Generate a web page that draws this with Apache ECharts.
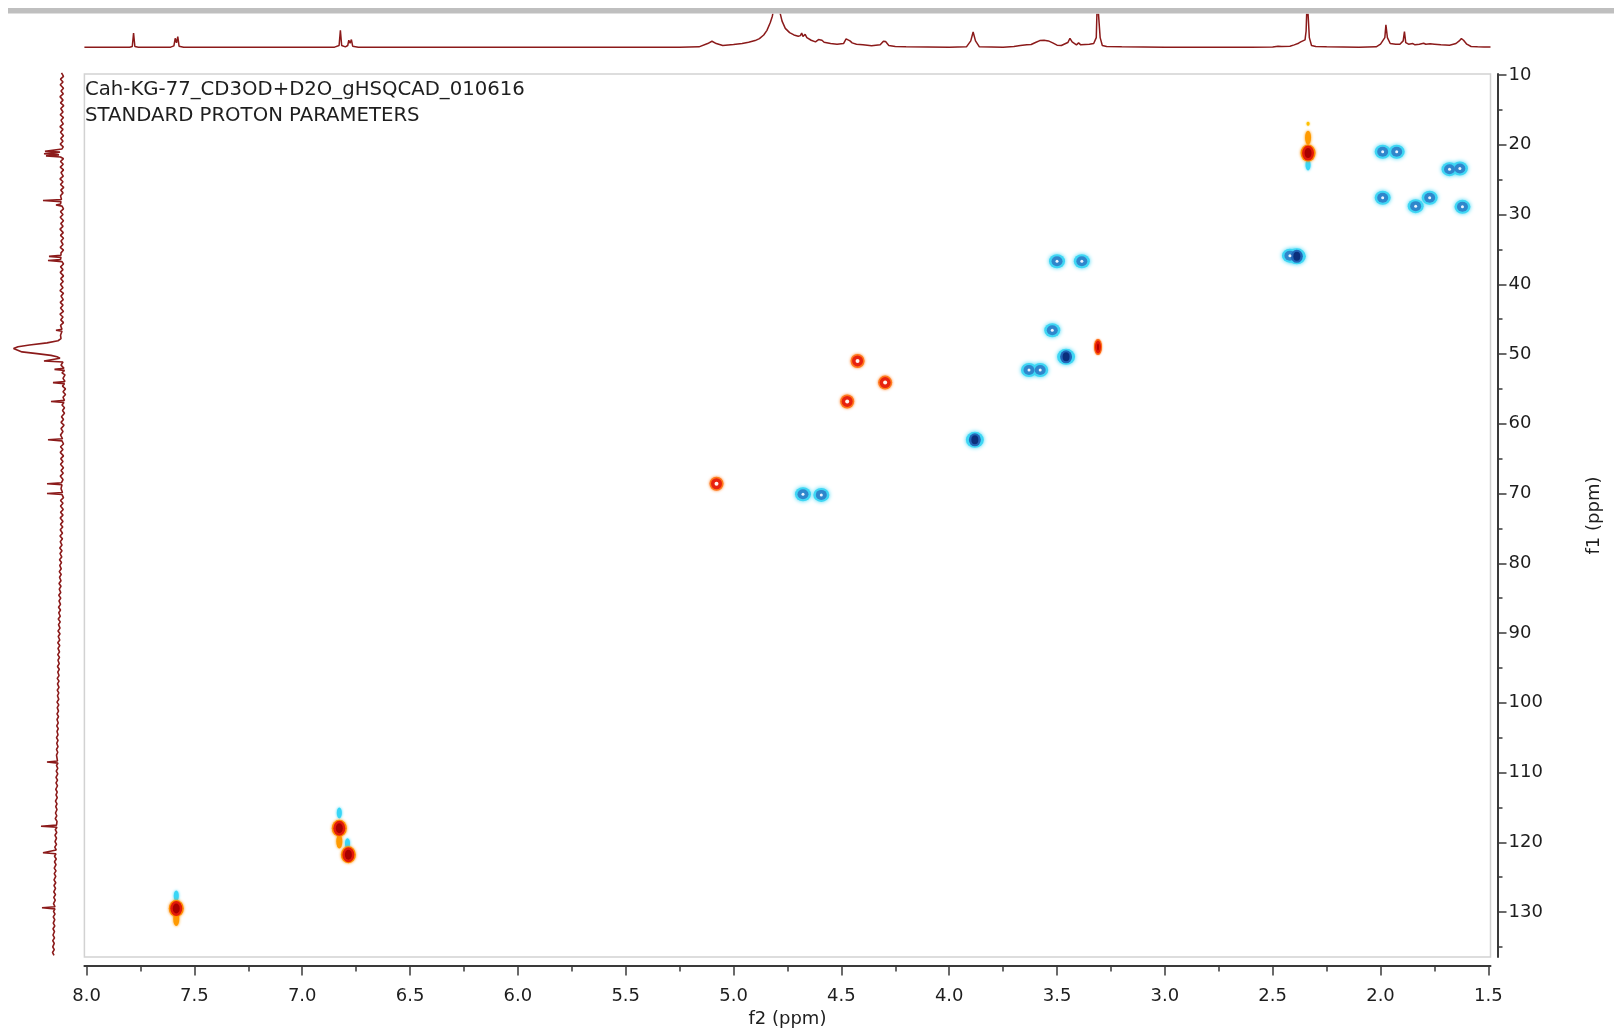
<!DOCTYPE html>
<html>
<head>
<meta charset="utf-8">
<script src="https://cdn.jsdelivr.net/npm/echarts@6/dist/echarts.min.js"></script>
<style>
  html, body { margin: 0; padding: 0; background: #fff; }
  #chart { width: 1614px; height: 1036px; }
</style>
</head>
<body>
<div id="chart"></div>
<script>
// f2 (1H) tick labels and f1 (13C) tick labels
const f2Labels = [1.5, 2.0, 2.5, 3.0, 3.5, 4.0, 4.5, 5.0, 5.5, 6.0, 6.5, 7.0, 7.5, 8.0];
const f2Minor = [1.75, 2.25, 2.75, 3.25, 3.75, 4.25, 4.75, 5.25, 5.75, 6.25, 6.75, 7.25, 7.75];
const f1Labels = [10, 20, 30, 40, 50, 60, 70, 80, 90, 100, 110, 120, 130];
const f1Minor = [15, 25, 35, 45, 55, 65, 75, 85, 95, 105, 115, 125, 135];

// 1D proton trace on top: [ppm, relative intensity]
const protonTrace = [
  [8.01,0.01],[7.80,0.01],[7.788,0.03],[7.782,0.44],[7.776,0.03],[7.76,0.01],
  [7.61,0.01],[7.595,0.05],[7.589,0.28],[7.583,0.14],[7.577,0.33],[7.571,0.04],[7.55,0.01],
  [6.85,0.01],[6.829,0.06],[6.823,0.52],[6.817,0.06],[6.80,0.02],[6.789,0.06],[6.784,0.22],[6.778,0.13],[6.772,0.24],[6.766,0.04],[6.74,0.01],
  [5.25,0.01],[5.16,0.02],[5.12,0.12],[5.10,0.19],[5.08,0.12],[5.05,0.06],[5.00,0.09],[4.96,0.12],[4.93,0.16],[4.90,0.21],[4.88,0.27],
  [4.86,0.38],[4.845,0.52],[4.83,0.75],[4.82,0.95],[4.81,1.3],[4.80,1.5],[4.79,1.2],[4.775,0.8],[4.76,0.58],[4.74,0.45],[4.72,0.38],
  [4.70,0.34],[4.69,0.36],[4.684,0.44],[4.678,0.33],[4.668,0.40],[4.66,0.30],[4.64,0.22],[4.62,0.17],[4.606,0.24],[4.598,0.29],[4.59,0.22],
  [4.58,0.16],[4.55,0.12],[4.52,0.10],[4.49,0.12],[4.478,0.26],[4.47,0.30],[4.46,0.2],[4.45,0.14],[4.43,0.10],[4.40,0.08],[4.36,0.05],
  [4.32,0.08],[4.305,0.19],[4.295,0.18],[4.28,0.06],[4.25,0.03],[4.20,0.02],[4.00,0.01],[3.92,0.02],[3.90,0.2],[3.889,0.47],[3.878,0.2],
  [3.86,0.02],[3.75,0.01],[3.70,0.03],[3.67,0.06],[3.64,0.08],[3.62,0.09],[3.60,0.15],[3.58,0.21],[3.56,0.22],[3.54,0.2],[3.52,0.14],
  [3.50,0.07],[3.48,0.06],[3.45,0.15],[3.44,0.28],[3.43,0.17],[3.41,0.08],[3.40,0.14],[3.39,0.08],[3.35,0.1],[3.33,0.12],
  [3.318,0.3],[3.313,1.5],[3.305,1.5],[3.30,0.3],[3.29,0.06],[3.27,0.03],[3.20,0.02],[3.00,0.01],[2.60,0.01],[2.50,0.015],
  [2.475,0.04],[2.466,0.07],[2.458,0.03],[2.42,0.04],[2.40,0.08],[2.38,0.13],[2.37,0.17],[2.36,0.2],[2.35,0.23],[2.345,0.5],
  [2.34,1.5],[2.335,1.5],[2.33,0.3],[2.32,0.06],[2.30,0.03],[2.25,0.02],[2.10,0.01],[2.02,0.02],[2.00,0.10],[1.99,0.20],[1.98,0.3],
  [1.975,0.69],[1.968,0.3],[1.955,0.12],[1.93,0.1],[1.91,0.1],[1.895,0.2],[1.889,0.48],[1.883,0.15],[1.87,0.1],[1.85,0.12],[1.84,0.08],
  [1.82,0.1],[1.80,0.13],[1.79,0.1],[1.77,0.11],[1.75,0.1],[1.72,0.08],[1.68,0.07],[1.65,0.12],[1.635,0.2],[1.625,0.27],[1.615,0.22],
  [1.60,0.1],[1.58,0.03],[1.55,0.02],[1.52,0.015],[1.49,0.015]
];

// 1D carbon trace on the left: [ppm, relative intensity]
const carbonTrace = [
  [9.7,0.01],[10.2,-0.03],[10.6,0.03],[11.0,-0.02],[11.4,0.035],[11.9,-0.03],[12.3,0.02],[12.7,-0.025],[13.1,0.04],[13.6,-0.02],
  [14.0,0.03],[14.4,-0.035],[14.8,0.025],[15.3,-0.02],[15.7,0.035],[16.1,-0.03],[16.5,0.02],[17.0,-0.025],[17.4,0.04],[17.8,-0.02],
  [18.2,0.03],[18.7,-0.03],[19.1,0.025],[19.5,-0.02],[19.9,0.035],[20.3,-0.025],[20.6,0.0],[20.85,0.02],[20.95,0.34],[21.05,0.04],
  [21.15,0.1],[21.3,0.36],[21.45,0.06],[21.6,0.32],[21.75,0.03],[22.0,-0.03],[22.4,0.03],[22.8,-0.025],[23.2,0.035],[23.6,-0.03],
  [24.0,0.02],[24.5,-0.025],[24.9,0.04],[25.3,-0.02],[25.7,0.03],[26.1,-0.035],[26.5,0.025],[26.9,-0.02],[27.3,0.03],[27.85,0.01],
  [28.0,0.38],[28.15,0.02],[28.5,0.03],[28.65,0.12],[28.8,0.0],[29.2,-0.03],[29.6,0.03],[30.0,-0.02],[30.4,0.035],[30.9,-0.03],
  [31.3,0.025],[31.7,-0.02],[32.1,0.04],[32.6,-0.025],[33.0,0.03],[33.4,-0.03],[33.8,0.02],[34.3,-0.02],[34.7,0.035],[35.1,-0.03],
  [35.5,0.02],[35.85,0.02],[36.0,0.26],[36.15,0.02],[36.45,0.03],[36.6,0.28],[36.75,0.0],[37.1,-0.03],[37.5,0.03],[37.9,-0.02],
  [38.3,0.035],[38.8,-0.03],[39.2,0.025],[39.6,-0.025],[40.0,0.03],[40.5,-0.02],[40.9,0.04],[41.3,-0.03],[41.7,0.02],[42.2,-0.025],
  [42.6,0.035],[43.0,-0.02],[43.4,0.03],[43.9,-0.03],[44.3,0.04],[44.7,-0.02],[45.1,0.025],[45.5,-0.03],[45.9,0.03],[46.45,0.0],
  [46.6,0.12],[46.75,0.0],[47.3,0.03],[47.8,0.02],[48.1,0.08],[48.4,0.3],[48.7,0.65],[48.95,0.88],[49.2,0.97],[49.45,0.95],
  [49.7,0.8],[49.95,0.5],[50.2,0.22],[50.4,0.1],[50.6,0.04],[50.85,0.02],[51.0,0.36],[51.15,-0.02],[51.6,0.02],[52.05,-0.04],
  [52.2,0.15],[52.35,-0.05],[52.7,0.0],[53.0,-0.06],[53.5,-0.02],[53.95,-0.06],[54.1,0.18],[54.25,-0.05],[54.6,-0.01],[55.0,-0.07],
  [55.4,-0.02],[55.8,-0.07],[56.2,-0.02],[56.65,-0.05],[56.8,0.22],[56.95,-0.04],[57.3,0.0],[57.7,-0.05],[58.1,-0.01],[58.5,-0.05],
  [59.0,0.01],[59.4,-0.03],[59.8,0.02],[60.2,-0.04],[60.7,0.02],[61.1,-0.02],[61.6,0.03],[62.15,-0.01],[62.3,0.28],[62.45,0.0],
  [62.9,-0.03],[63.3,0.03],[63.7,-0.02],[64.1,0.035],[64.6,-0.03],[65.0,0.025],[65.4,-0.02],[65.8,0.03],[66.3,-0.03],[66.7,0.02],
  [67.1,-0.025],[67.5,0.035],[68.0,-0.02],[68.45,0.01],[68.6,0.3],[68.75,0.0],[69.3,0.02],[69.85,-0.01],[70.0,0.3],[70.15,0.0],
  [70.6,-0.03],[71.0,0.03],[71.4,-0.02],[71.8,0.03],[72.3,-0.025],[72.7,0.03],[73.1,-0.02],[73.5,0.035],[74.0,-0.02],[74.4,0.03],
  [74.8,-0.015],[75.2,0.035],[75.7,-0.01],[76.1,0.04],[76.5,-0.01],[76.9,0.035],[77.4,0.0],[77.8,0.045],[78.2,0.0],[78.6,0.04],
  [79.1,0.005],[79.5,0.05],[79.9,0.01],[80.3,0.045],[80.8,0.015],[81.2,0.055],[81.6,0.015],[82.0,0.05],[82.5,0.02],[82.9,0.06],
  [83.3,0.02],[83.7,0.055],[84.2,0.025],[84.6,0.065],[85.0,0.025],[85.4,0.06],[85.9,0.03],[86.3,0.07],[86.7,0.03],[87.1,0.065],
  [87.6,0.035],[88.0,0.075],[88.4,0.035],[88.8,0.07],[89.3,0.04],[89.7,0.08],[90.1,0.04],[90.5,0.075],[91.0,0.045],[91.4,0.085],
  [91.8,0.045],[92.2,0.08],[92.7,0.05],[93.1,0.085],[93.5,0.05],[93.9,0.08],[94.4,0.055],[94.8,0.09],[95.2,0.055],[95.6,0.085],
  [96.1,0.06],[96.5,0.095],[96.9,0.06],[97.3,0.09],[97.8,0.06],[98.2,0.095],[98.6,0.065],[99.0,0.09],[99.5,0.065],[99.9,0.1],
  [100.3,0.065],[100.7,0.095],[101.2,0.07],[101.6,0.1],[102.0,0.07],[102.4,0.1],[102.9,0.075],[103.3,0.105],[103.7,0.075],[104.1,0.1],
  [104.6,0.08],[105.0,0.11],[105.4,0.08],[105.8,0.105],[106.3,0.08],[106.7,0.11],[107.1,0.085],[107.5,0.11],[108.35,0.09],[108.5,0.3],
  [108.65,0.08],[109.0,0.11],[109.4,0.085],[109.8,0.115],[110.2,0.085],[110.7,0.12],[111.1,0.09],[111.5,0.12],[111.9,0.09],[112.4,0.125],
  [112.8,0.095],[113.2,0.12],[113.6,0.095],[114.1,0.13],[114.5,0.1],[114.9,0.125],[115.3,0.1],[115.8,0.13],[116.2,0.105],[116.6,0.135],
  [117.0,0.1],[117.55,0.11],[117.7,0.42],[117.85,0.1],[118.2,0.135],[118.6,0.105],[119.0,0.14],[119.4,0.11],[119.9,0.14],[120.3,0.11],
  [120.7,0.145],[121.1,0.115],[121.35,0.12],[121.5,0.38],[121.65,0.12],[122.0,0.15],[122.4,0.115],[122.8,0.15],[123.2,0.12],[123.7,0.155],
  [124.1,0.12],[124.5,0.155],[124.9,0.125],[125.4,0.16],[125.8,0.125],[126.2,0.16],[126.6,0.13],[127.1,0.165],[127.5,0.13],[127.9,0.165],
  [128.3,0.135],[128.8,0.17],[129.25,0.14],[129.4,0.4],[129.55,0.14],[129.9,0.17],[130.3,0.14],[130.7,0.175],[131.1,0.145],[131.6,0.175],
  [132.0,0.145],[132.4,0.18],[132.8,0.15],[133.3,0.18],[133.7,0.15],[134.1,0.185],[134.5,0.155],[135.0,0.185],[135.4,0.155],[135.8,0.19],[136.2,0.16]
];

// HSQC cross peaks [f2 ppm, f1 ppm], grouped by how they look
const blueSpots = [
  [1.990,21.0],[1.925,21.0],[1.680,23.5],[1.632,23.4],[1.990,27.6],[1.772,27.6],[1.837,28.8],[1.620,28.9],
  [2.420,35.9],[3.500,36.7],[3.385,36.7],[3.522,46.6],[3.630,52.3],[3.578,52.3],[4.678,70.1],[4.593,70.2]
];
const blueDark = [[2.388,36.0],[3.458,50.4],[3.881,62.3]];
const redRings = [[4.425,51.0],[4.297,54.1],[4.473,56.8],[5.079,68.6]];
const redDark = [[2.336,21.2],[7.584,129.5],[6.828,118.0],[6.786,121.8]];
const redThin = [[3.310,49.0]];
const cyanTips = [[7.584,127.7],[6.828,115.8],[6.790,120.2],[2.336,22.9]];
const orangeTails = [[7.584,131.0],[6.828,119.9],[2.336,19.0]];
const yellowDots = [[2.336,17.0]];

const chart = echarts.init(document.getElementById('chart'));

const FONT = 'DejaVu Sans';
const AX = '#3a3a3a';
const TRACE = '#8b1a1a';

const spots = (data, layers, z) => layers.map((l, k) => ({
  type: 'scatter',
  xAxisIndex: 0,
  yAxisIndex: 0,
  data: data,
  symbol: 'circle',
  symbolSize: l.size,
  silent: true,
  z: z + k,
  itemStyle: {
    color: l.color,
    opacity: l.op || 1,
    shadowBlur: l.blur || 0,
    shadowColor: l.color
  }
}));

const option = {
  animation: false,
  backgroundColor: '#fff',
  title: {
    text: 'Cah-KG-77_CD3OD+D2O_gHSQCAD_010616\nSTANDARD PROTON PARAMETERS',
    left: 85,
    top: 77,
    padding: 0,
    textStyle: { fontFamily: FONT, fontSize: 19.7, fontWeight: 'normal', color: '#1e1e1e', lineHeight: 26 }
  },
  graphic: [
    { type: 'rect', shape: { x: 8, y: 8, width: 1606, height: 5.5 }, style: { fill: '#bfbfbf' }, z: 100 }
  ],
  grid: [
    { left: 84.4, top: 74, width: 1406.1, height: 883, show: true, borderColor: '#d2d2d2', borderWidth: 1.5, backgroundColor: '#fff' },
    { left: 84.4, top: 14.5, width: 1406.1, height: 33 },
    { left: 12, top: 74, width: 55, height: 883 }
  ],
  xAxis: [
    {
      type: 'value', gridIndex: 0, min: 1.49, max: 8.01, inverse: true, position: 'bottom', offset: 8.5,
      name: 'f2 (ppm)', nameLocation: 'middle', nameGap: 44,
      nameTextStyle: { fontFamily: FONT, fontSize: 18, color: '#1e1e1e' },
      axisLine: { show: true, lineStyle: { color: AX, width: 2 } },
      axisTick: { show: true, length: 10, customValues: f2Labels, lineStyle: { color: AX, width: 1.5 } },
      axisLabel: { customValues: f2Labels, margin: 22, fontFamily: FONT, fontSize: 18, color: '#1e1e1e', formatter: v => v.toFixed(1) },
      splitLine: { show: false }
    },
    {
      type: 'value', gridIndex: 0, min: 1.49, max: 8.01, inverse: true, position: 'bottom', offset: 8.5,
      axisLine: { show: false },
      axisTick: { show: true, length: 6, customValues: f2Minor, lineStyle: { color: AX, width: 1.5 } },
      axisLabel: { show: false },
      splitLine: { show: false }
    },
    { type: 'value', gridIndex: 1, min: 1.49, max: 8.01, inverse: true, show: false, splitLine: { show: false } },
    { type: 'value', gridIndex: 2, min: -0.1, max: 1, inverse: true, show: false, splitLine: { show: false } }
  ],
  yAxis: [
    {
      type: 'value', gridIndex: 0, min: 9.857, max: 136.45, inverse: true, position: 'right', offset: 7,
      name: 'f1 (ppm)', nameLocation: 'middle', nameGap: 88, nameRotate: 90,
      nameTextStyle: { fontFamily: FONT, fontSize: 18, color: '#1e1e1e' },
      axisLine: { show: true, lineStyle: { color: AX, width: 2 } },
      axisTick: { show: true, length: 9, customValues: f1Labels, lineStyle: { color: AX, width: 1.5 } },
      axisLabel: { customValues: f1Labels, margin: 11, fontFamily: FONT, fontSize: 18, color: '#1e1e1e' },
      splitLine: { show: false }
    },
    {
      type: 'value', gridIndex: 0, min: 9.857, max: 136.45, inverse: true, position: 'right', offset: 7,
      axisLine: { show: false },
      axisTick: { show: true, length: 5, customValues: f1Minor, lineStyle: { color: AX, width: 1.5 } },
      axisLabel: { show: false },
      splitLine: { show: false }
    },
    { type: 'value', gridIndex: 1, min: 0, max: 1, show: false, splitLine: { show: false } },
    { type: 'value', gridIndex: 2, min: 9.857, max: 136.45, inverse: true, show: false, splitLine: { show: false } }
  ],
  series: [
    {
      type: 'line', xAxisIndex: 2, yAxisIndex: 2, data: protonTrace,
      showSymbol: false, silent: true, clip: true,
      lineStyle: { color: TRACE, width: 1.5 }
    },
    {
      type: 'line', xAxisIndex: 3, yAxisIndex: 3, data: carbonTrace.map(p => [p[1], p[0]]),
      showSymbol: false, silent: true, clip: false,
      lineStyle: { color: TRACE, width: 1.6 }
    },
    ...spots(cyanTips, [{ size: [5, 11], color: '#38d6f6', blur: 3 }], 10),
    ...spots(orangeTails, [{ size: [6, 14], color: '#ff9a00', blur: 3 }], 10),
    ...spots(yellowDots, [{ size: [3, 4], color: '#ffc000', blur: 2 }], 10),
    ...spots(blueSpots, [
      { size: [16, 14], color: '#3ed6f4', blur: 4 },
      { size: [11, 10], color: '#2f86cc' },
      { size: 3, color: '#eaf4ff' }
    ], 20),
    ...spots(blueDark, [
      { size: [18, 16], color: '#3ed6f4', blur: 4 },
      { size: [12, 13], color: '#2266b8' },
      { size: [7, 9], color: '#0b2f7c' }
    ], 20),
    ...spots(redRings, [
      { size: 14, color: '#ff7a1c', blur: 3 },
      { size: 11, color: '#e8220e' },
      { size: 4, color: '#fff4ee' }
    ], 20),
    ...spots(redDark, [
      { size: [15, 17], color: '#ff8c00', blur: 3 },
      { size: [12, 15], color: '#e21a08' },
      { size: [7, 10], color: '#a80000' }
    ], 20),
    ...spots(redThin, [
      { size: [8, 16], color: '#ff6a10', blur: 2 },
      { size: [6, 13], color: '#e21a08' },
      { size: [2, 7], color: '#b00000' }
    ], 20)
  ]
};

chart.setOption(option);
</script>
</body>
</html>
